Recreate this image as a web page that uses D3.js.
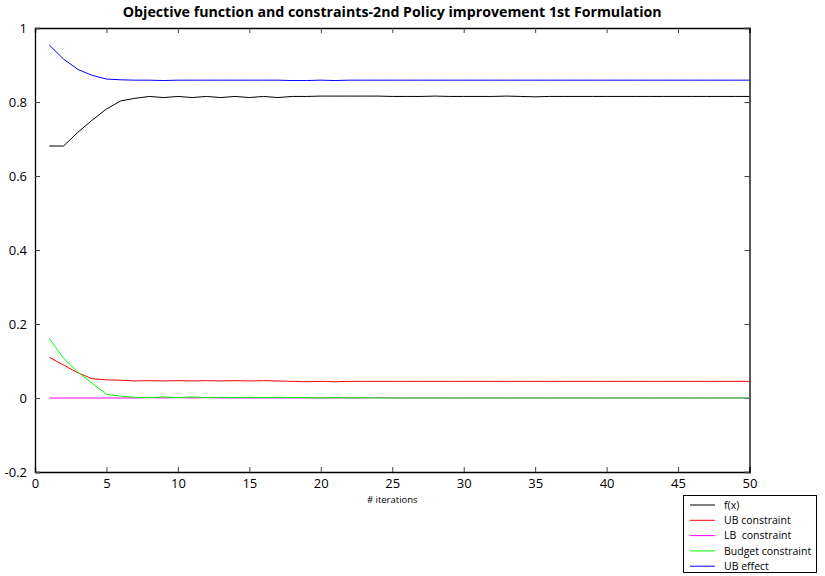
<!DOCTYPE html>
<html><head><meta charset="utf-8">
<script src="https://cdn.jsdelivr.net/npm/d3@7"></script>
<style>body{margin:0;background:#fff}svg{display:block}text{font-family:"Open Sans",sans-serif;white-space:pre}</style>
</head><body><svg id="c" width="825" height="576"></svg>
<script>
const iterations = d3.range(1, 51);
const fx = [0.681,0.681,0.718,0.751,0.781,0.803,0.810,0.815,0.812,0.815,0.812,0.815,0.812,0.815,0.812,0.815,0.812,0.815,0.815,0.816,0.816,0.816,0.816,0.816,0.815,0.815,0.815,0.816,0.815,0.815,0.815,0.815,0.816,0.815,0.814,0.815,0.815,0.815,0.815,0.815,0.815,0.815,0.815,0.815,0.815,0.815,0.815,0.815,0.815,0.815];
const ubConstraint = [0.110,0.089,0.068,0.052,0.049,0.048,0.046,0.047,0.046,0.047,0.046,0.047,0.046,0.047,0.046,0.047,0.046,0.045,0.044,0.045,0.044,0.045,0.045,0.045,0.045,0.045,0.045,0.045,0.045,0.045,0.045,0.045,0.045,0.045,0.045,0.045,0.045,0.045,0.045,0.045,0.045,0.045,0.045,0.045,0.045,0.045,0.045,0.045,0.045,0.045];
const lbConstraint = [0,0,0,0,0,0,0,0.001,0,0.001,0,0.001,0,0,0,0,0,0,0,0,0,0,0,0.001,0,0,0,0,0,0,0,0,0,0,0,0,0,0,0,0,0,0,0,0,0,0,0,0,0,0];
const budgetConstraint = [0.161,0.107,0.070,0.040,0.010,0.005,0.002,0.001,0.003,0.001,0.003,0.001,0.002,0.001,0.002,0.001,0.002,0.001,0.001,0.000,0.001,0.000,0.001,0.000,0,0,0,0,0,0,0,0,0,0,0,0,0,0,0,0,0,0,0,0,0,0,0,0,0,0];
const ubEffect = [0.954,0.916,0.888,0.872,0.862,0.860,0.859,0.859,0.858,0.859,0.859,0.859,0.859,0.859,0.859,0.859,0.859,0.858,0.858,0.859,0.858,0.859,0.859,0.859,0.859,0.859,0.859,0.859,0.859,0.859,0.859,0.859,0.859,0.859,0.859,0.859,0.859,0.859,0.859,0.859,0.859,0.859,0.859,0.859,0.859,0.859,0.859,0.859,0.859,0.859];
const seriesNames = ["f(x)","UB constraint","LB  constraint","Budget constraint","UB effect"];
const seriesColors = ["#000000","#ff0000","#ff00ff","#00ff00","#0000ff"];
const xTicks = [0,5,10,15,20,25,30,35,40,45,50];
const yTicks = [-0.2,0,0.2,0.4,0.6,0.8,1];
const titleText = "Objective function and constraints-2nd Policy improvement 1st Formulation";
const xLabel = "# iterations";

const seriesData = [fx, ubConstraint, lbConstraint, budgetConstraint, ubEffect];
const svg = d3.select("#c");
const L=35, R=749.5, T=28, B=472;
const x = d3.scaleLinear().domain([0,50]).range([L,R]);
const y = d3.scaleLinear().domain([-0.2,1]).range([B,T]);

svg.append("text").attr("x",(L+R)/2).attr("y",17).attr("text-anchor","middle")
  .attr("font-weight","bold").attr("font-size",14.2).text(titleText);

const fmt = d => d===0 ? "0" : String(d);
svg.append("g").attr("transform",`translate(0,${B})`)
  .call(d3.axisBottom(x).tickValues(xTicks).tickSize(-5).tickFormat(fmt).tickPadding(7))
  .call(g=>g.selectAll("text").attr("font-size",13));
svg.append("g").attr("transform",`translate(0,${T})`)
  .call(d3.axisTop(x).tickValues(xTicks).tickSize(-5).tickFormat(""));
svg.append("g").attr("transform",`translate(${L},0)`)
  .call(d3.axisLeft(y).tickValues(yTicks).tickSize(-5).tickFormat(fmt).tickPadding(8))
  .call(g=>g.selectAll("text").attr("font-size",13));
svg.append("g").attr("transform",`translate(${R},0)`)
  .call(d3.axisRight(y).tickValues(yTicks).tickSize(-5).tickFormat(""));
svg.selectAll(".domain").attr("stroke","#000").attr("stroke-width",1.3);
svg.selectAll(".tick line").attr("stroke","#444");
svg.selectAll(".tick text").attr("fill","#000").attr("font-family","'Open Sans',sans-serif");

svg.append("text").attr("x",(L+R)/2).attr("y",503).attr("text-anchor","middle")
  .attr("font-size",9.5).text(xLabel);

const line = d3.line().x((d,i)=>x(iterations[i])).y(d=>y(d));
seriesData.forEach((s,k)=>{
  svg.append("path").datum(s).attr("d",line).attr("fill","none")
    .attr("stroke",seriesColors[k]).attr("stroke-width",1);
});

const lg = svg.append("g");
lg.append("rect").attr("x",683.5).attr("y",495.5).attr("width",133).attr("height",77)
  .attr("fill","#fff").attr("stroke","#000").attr("stroke-width",1);
seriesNames.forEach((n,k)=>{
  const yy = 505 + k*15.3;
  lg.append("line").attr("x1",690).attr("x2",715).attr("y1",yy).attr("y2",yy)
    .attr("stroke",seriesColors[k]).attr("stroke-width",1);
  lg.append("text").attr("x",724).attr("y",yy+3.7).attr("font-size",10.5).text(n);
});
</script></body></html>
